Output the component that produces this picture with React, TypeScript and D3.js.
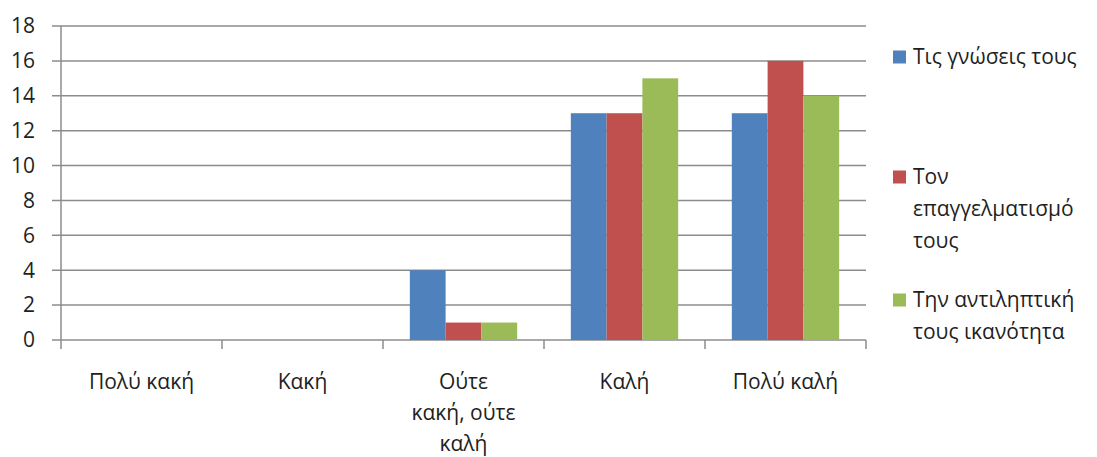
import React from 'react';
import * as d3 from 'd3';

const categories = ['Πολύ κακή', 'Κακή', 'Ούτε κακή, ούτε καλή', 'Καλή', 'Πολύ καλή'];
const categoryLines = [['Πολύ κακή'], ['Κακή'], ['Ούτε', 'κακή, ούτε', 'καλή'], ['Καλή'], ['Πολύ καλή']];
const seriesNames = ['Τις γνώσεις τους', 'Τον επαγγελματισμό τους', 'Την αντιληπτική τους ικανότητα'];
const seriesLines = [['Τις γνώσεις τους'], ['Τον', 'επαγγελματισμό', 'τους'], ['Την αντιληπτική', 'τους ικανότητα']];
const knowledge = [0, 0, 4, 13, 13];
const professionalism = [0, 0, 1, 13, 16];
const perception = [0, 0, 1, 15, 14];
const yTicks = [0, 2, 4, 6, 8, 10, 12, 14, 16, 18];

const seriesValues = [knowledge, professionalism, perception];
const colors = ['#4F81BD', '#C0504D', '#9BBB59'];

export default function App() {
    const width = 1097;
    const height = 457;
    const left = 61;
    const right = 866;
    const top = 26;
    const bottom = 340;
    const font = '"Open Sans", sans-serif';
    const textColor = '#1f1f1f';
    const grid = '#8c8c8c';
    const fs = 21;

    const x = d3.scaleBand().domain(categories).range([left, right]).padding(0);
    const x1 = d3.scaleBand().domain(seriesNames).range([0, x.bandwidth()]).paddingInner(0).paddingOuter(0.75);
    const y = d3.scaleLinear().domain([0, 18]).range([bottom, top]);

    const legendY = [57, 177, 300];

    return (
        <svg width={width} height={height} style={{ position: 'absolute', left: 0, top: 0 }} fontFamily={font}>
            {yTicks.map(t => (
                <g key={t}>
                    <line x1={52} x2={right} y1={y(t)} y2={y(t)} stroke={grid} strokeWidth={1.5} />
                    <text x={35} y={y(t)} dy="0.35em" textAnchor="end" fontSize={fs} fill={textColor}>{t}</text>
                </g>
            ))}
            <line x1={left} x2={left} y1={top} y2={349} stroke={grid} strokeWidth={1.5} />
            {categories.map(c => (
                <line key={c} x1={x(c)! + x.bandwidth()} x2={x(c)! + x.bandwidth()} y1={bottom} y2={349} stroke={grid} strokeWidth={1.5} />
            ))}
            {seriesNames.map((s, si) => (
                <g key={s}>
                    {categories.map((c, ci) => (
                        seriesValues[si][ci] > 0 ? (
                            <rect key={c}
                                x={x(c)! + x1(s)!}
                                width={x1.bandwidth()}
                                y={y(seriesValues[si][ci])}
                                height={bottom - y(seriesValues[si][ci])}
                                fill={colors[si]} />
                        ) : null
                    ))}
                </g>
            ))}
            {categories.map((c, i) => (
                <text key={c} x={x(c)! + x.bandwidth() / 2} y={382} textAnchor="middle" fontSize={fs} fill={textColor}>
                    {categoryLines[i].map((l, li) => (
                        <tspan key={li} x={x(c)! + x.bandwidth() / 2} dy={li === 0 ? '0.35em' : 31}>{l}</tspan>
                    ))}
                </text>
            ))}
            {seriesNames.map((s, si) => (
                <g key={s}>
                    <rect x={893} y={legendY[si] - 6.5} width={13} height={13} fill={colors[si]} />
                    <text x={913} y={legendY[si]} fontSize={fs} fill={textColor}>
                        {seriesLines[si].map((l, li) => (
                            <tspan key={li} x={913} dy={li === 0 ? '0.35em' : 32}>{l}</tspan>
                        ))}
                    </text>
                </g>
            ))}
        </svg>
    );
}
